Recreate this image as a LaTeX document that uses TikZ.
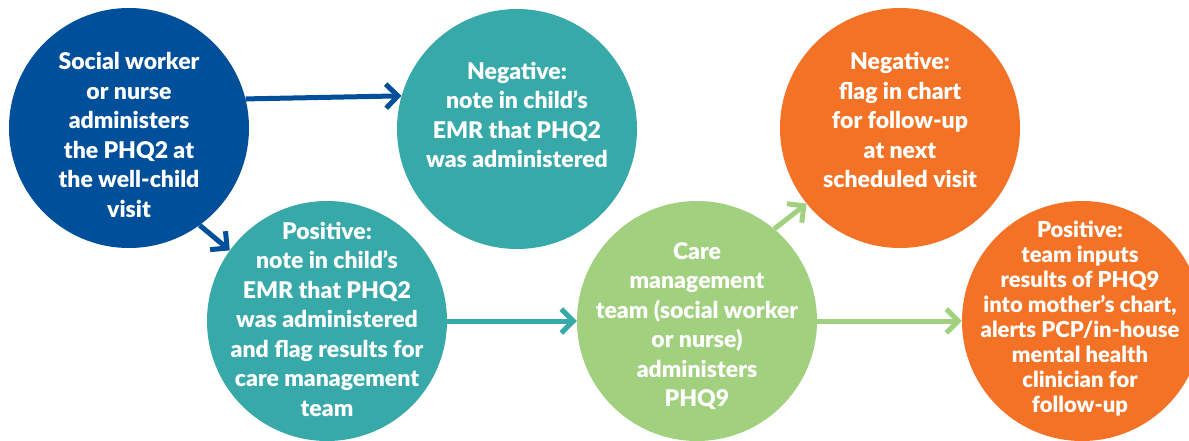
\documentclass[tikz,border=0pt]{standalone}
\usepackage{fontspec}
\setmainfont{Lato}[BoldFont={Lato Black}]
\usetikzlibrary{arrows.meta}
\definecolor{cblue}{HTML}{004F9B}
\definecolor{cteal}{HTML}{38A9A9}
\definecolor{cgreen}{HTML}{A1D07E}
\definecolor{corange}{HTML}{F37225}
\begin{document}
\begin{tikzpicture}[x=1pt,y=-1pt,
  disc/.style={circle,minimum size=240pt,inner sep=0pt,draw=none},
  txt/.style={text=white,align=center,font=\bfseries\fontsize{23}{29.5}\selectfont,inner sep=0pt},
  txtsmall/.style={text=white,align=center,font=\bfseries\fontsize{22}{25}\selectfont,inner sep=0pt},
  flow/.style={line width=5pt,-{Straight Barb[length=12pt,width=24pt]}}]
\useasboundingbox (0,0) rectangle (1189,441);
\node[disc,fill=cblue]   (c1) at (129,128) {};
\node[disc,fill=cteal]   (c2) at (517,129) {};
\node[disc,fill=cteal]   (c3) at (327,321) {};
\node[disc,fill=cgreen]  (c4) at (697,321) {};
\node[disc,fill=corange] (c5) at (900,128) {};
\node[disc,fill=corange] (c6) at (1082,321) {};
\node[txt] (t1) at (129,135) {Social worker\\or nurse\\administers\\the PHQ2 at\\the well-child\\visit};
\node[txt] (t2) at (517,115) {Negative:\\note in child’s\\EMR that PHQ2\\was administered};
\node[txt] (t3) at (327,319) {Positive:\\note in child’s\\EMR that PHQ2\\was administered\\and flag results for\\care management\\team};
\node[txt] (t4) at (697,326) {Care\\management\\team (social worker\\or nurse)\\administers\\PHQ9};
\node[txt] (t5) at (900,120) {Negative:\\flag in chart\\for follow-up\\at next\\scheduled visit};
\node[txtsmall] (t6) at (1080,319) {Positive:\\team inputs\\results of PHQ9\\into mother’s chart,\\alerts PCP/in-house\\mental health\\clinician for\\follow-up};
\draw[flow,cblue] (c1.14) -- (c2.164);
\draw[flow,cblue] (c1.-54) -- (c3.144);
\draw[flow,cteal] (c3.east) -- (c4.west);
\draw[flow,cgreen] (c4.east) -- (c6.west);
\draw[flow,cgreen] (c4.50) -- (c5.-141);
\end{tikzpicture}
\end{document}
